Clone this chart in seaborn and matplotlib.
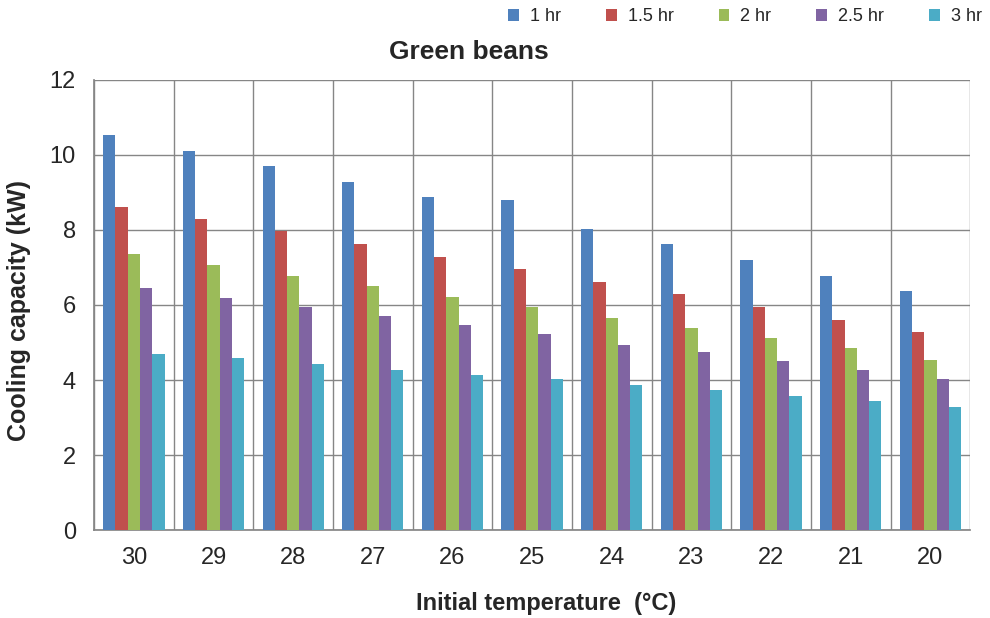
import matplotlib
matplotlib.use("Agg")
import matplotlib.pyplot as plt
import seaborn as sns
import pandas as pd
import numpy as np

categories = ["30", "29", "28", "27", "26", "25", "24", "23", "22", "21", "20"]
series_names = ["1 hr", "1.5 hr", "2 hr", "2.5 hr", "3 hr"]
v_1hr = [10.53, 10.11, 9.71, 9.28, 8.88, 8.80, 8.03, 7.63, 7.20, 6.77, 6.37]
v_15hr = [8.61, 8.29, 7.97, 7.63, 7.28, 6.96, 6.61, 6.29, 5.95, 5.60, 5.28]
v_2hr = [7.36, 7.07, 6.77, 6.51, 6.21, 5.95, 5.65, 5.39, 5.12, 4.85, 4.53]
v_25hr = [6.45, 6.19, 5.95, 5.71, 5.47, 5.23, 4.93, 4.75, 4.51, 4.27, 4.03]
v_3hr = [4.69, 4.59, 4.43, 4.27, 4.13, 4.03, 3.87, 3.73, 3.57, 3.44, 3.28]
colors = ["#4F81BD", "#C0504D", "#9BBB59", "#8064A2", "#4BACC6"]

rows = []
for name, vals in zip(series_names, [v_1hr, v_15hr, v_2hr, v_25hr, v_3hr]):
    for c, v in zip(categories, vals):
        rows.append({"temp": c, "series": name, "value": v})
df = pd.DataFrame(rows)

sns.set_theme(style="white")
plt.rcParams["font.family"] = ["Liberation Sans", "DejaVu Sans"]

fig = plt.figure(figsize=(9.9, 6.18), dpi=100)
ax = fig.add_axes([0.095, 0.142, 0.885, 0.729])

sns.barplot(data=df, x="temp", y="value", hue="series", order=categories,
            hue_order=series_names, palette=colors, width=0.77,
            saturation=1, ax=ax, legend=True, linewidth=0, zorder=3)

ax.set_ylim(0, 12)
ax.set_xlim(-0.5, len(categories) - 0.5)
ax.set_yticks(np.arange(0, 13, 2))
ax.tick_params(axis="y", labelsize=17, length=8, width=1, color="#808080", direction="out", pad=5)
ax.tick_params(axis="x", labelsize=17, length=0, pad=12)
ax.yaxis.grid(True, color="#868686", linewidth=1, zorder=0)
ax.set_axisbelow(True)
# vertical category boundaries
for b in np.arange(-0.5, len(categories), 1.0):
    ax.axvline(b, color="#868686", linewidth=1, zorder=0.5)
ax.set_xticks(np.arange(-0.5, len(categories), 1.0), minor=True)
ax.tick_params(axis="x", which="minor", length=8, width=1, color="#808080", direction="out")

for s in ["top", "right"]:
    ax.spines[s].set_visible(False)
ax.spines["left"].set_color("#868686")
ax.spines["bottom"].set_color("#868686")

ax.set_xlabel("Initial temperature  (°C)", fontsize=17, fontweight="bold", va="center")
ax.xaxis.set_label_coords(0.516, -0.162)
ax.set_ylabel("Cooling capacity (kW)", fontsize=18, fontweight="bold", va="center")
ax.yaxis.set_label_coords(-0.086, 0.487)
fig.text(0.474, 0.916, "Green beans", fontsize=19, fontweight="bold", ha="center", va="center")

handles, labels = ax.get_legend_handles_labels()
ax.legend(handles, labels, ncol=5, loc="upper right", bbox_to_anchor=(1.008, 1.013),
          bbox_transform=fig.transFigure, frameon=False, fontsize=13,
          handlelength=0.6, handleheight=0.6, handletextpad=0.6, columnspacing=2.5)

fig.savefig("out.png", dpi=100)
